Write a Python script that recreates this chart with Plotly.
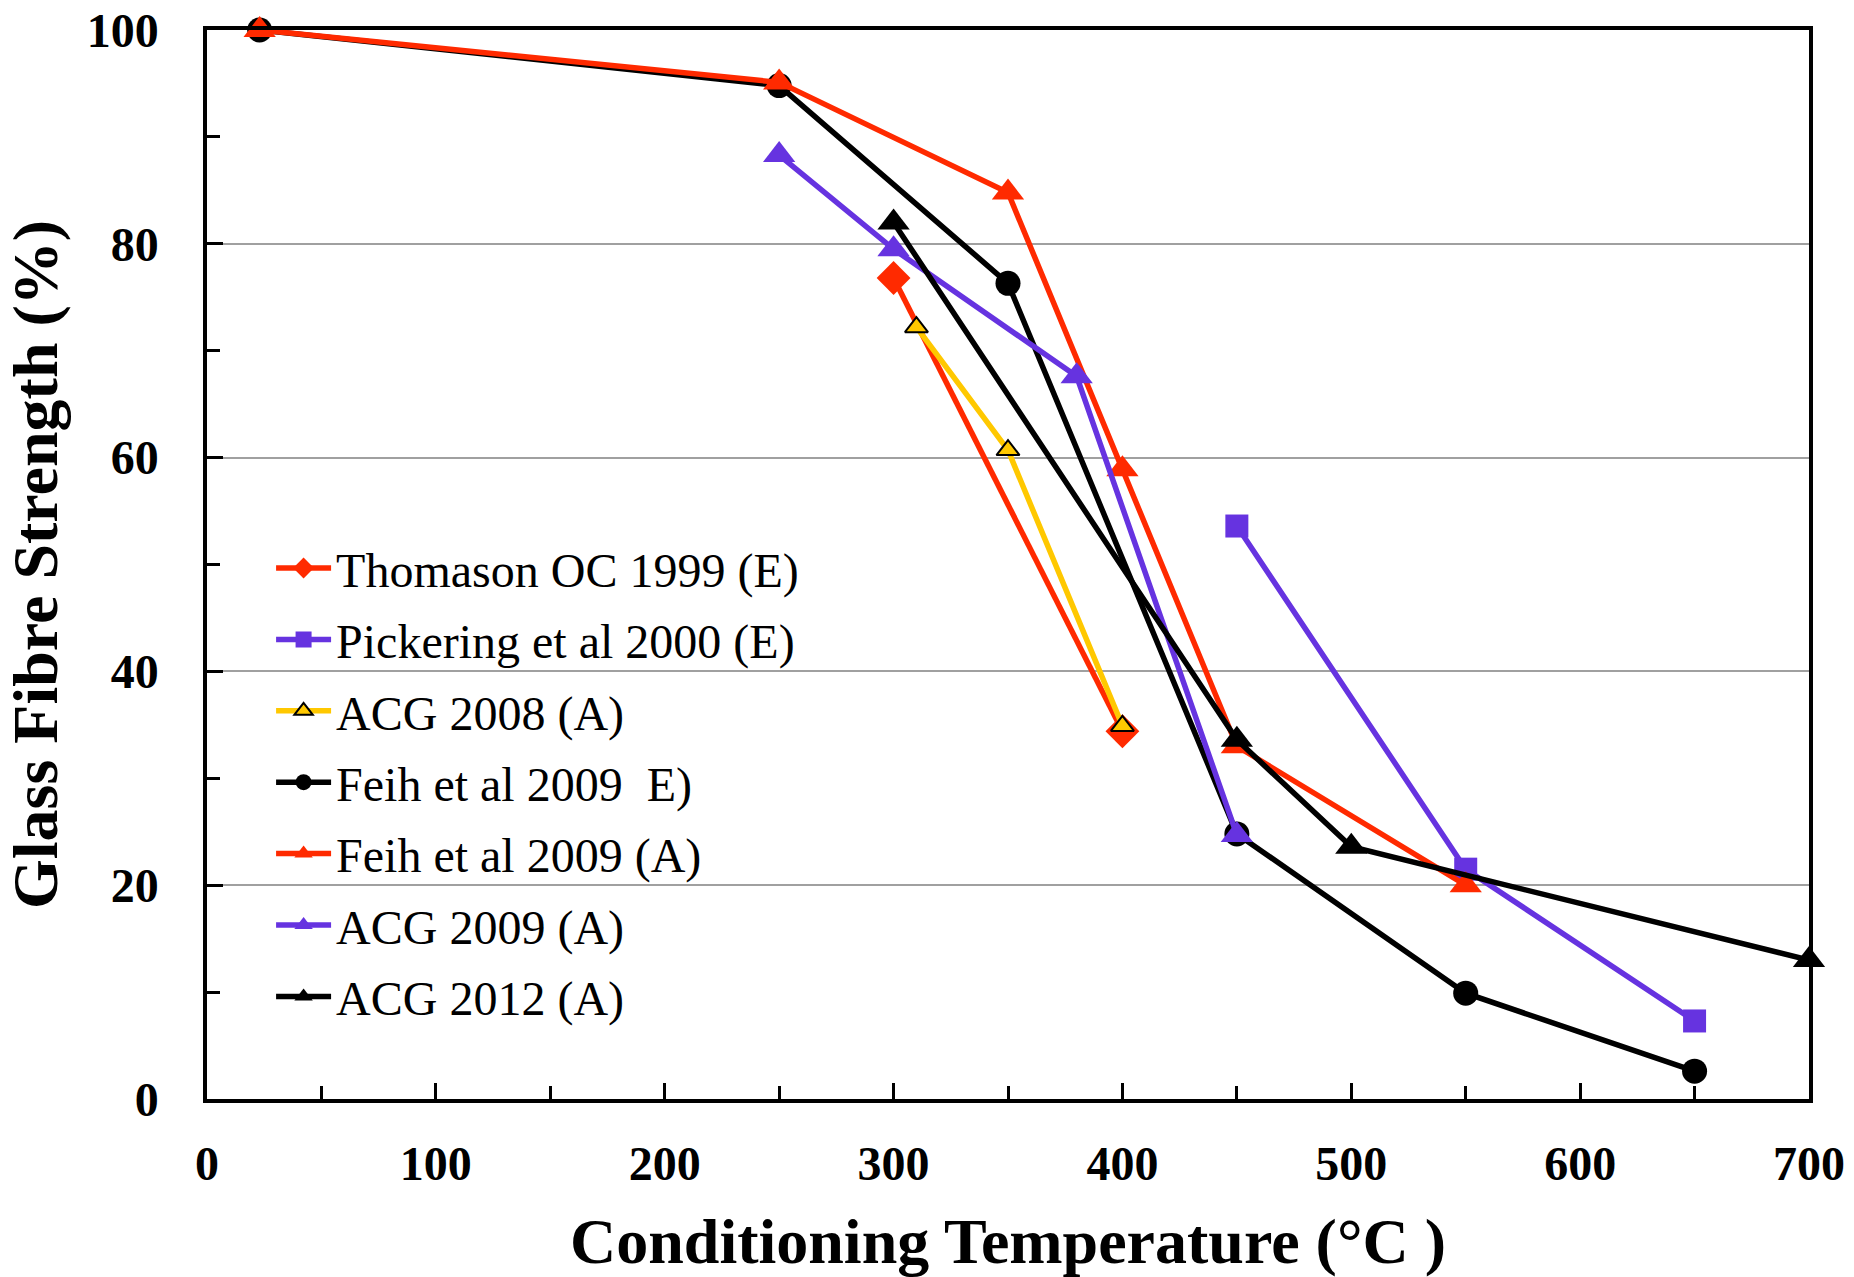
import plotly.graph_objects as go

# ---- data ----
thomason_x = [300, 400]
thomason_y = [76.8, 34.4]

pickering_x = [450, 550, 650]
pickering_y = [53.6, 21.5, 7.3]

acg2008_x = [310, 350, 400]
acg2008_y = [72.2, 60.7, 34.9]

feihE_x = [23, 250, 350, 450, 550, 650]
feihE_y = [100, 94.8, 76.3, 24.8, 9.9, 2.6]

feihA_x = [23, 250, 350, 400, 450, 550]
feihA_y = [100, 95.1, 84.8, 58.9, 33.0, 20.0]

acg2009_x = [250, 300, 380, 450]
acg2009_y = [88.3, 79.5, 67.6, 24.7]

acg2012_x = [300, 450, 500, 700]
acg2012_y = [82.0, 33.6, 23.6, 13.0]

x_ticks = [0, 100, 200, 300, 400, 500, 600, 700]
y_ticks = [0, 20, 40, 60, 80, 100]

RED = "#FF2A00"
PURPLE = "#6633E0"
YELLOW = "#FFC800"
BLACK = "#000000"
LW = 5.5

series = [
    ("Thomason OC 1999 (E)", thomason_x, thomason_y, RED, "diamond", 26, RED, 0),
    ("Pickering et al 2000 (E)", pickering_x, pickering_y, PURPLE, "square", 23, PURPLE, 0),
    ("ACG 2008 (A)", acg2008_x, acg2008_y, YELLOW, "triangle-up", 20, BLACK, 2),
    ("Feih et al 2009\u00a0 E)", feihE_x, feihE_y, BLACK, "circle", 25, BLACK, 0),
    ("Feih et al 2009 (A)", feihA_x, feihA_y, RED, "triangle-up", 28, RED, 0),
    ("ACG 2009 (A)", acg2009_x, acg2009_y, PURPLE, "triangle-up", 28, PURPLE, 0),
    ("ACG 2012 (A)", acg2012_x, acg2012_y, BLACK, "triangle-up", 28, BLACK, 0),
]

fig = go.Figure()
for i, (name, xs, ys, col, sym, sz, lc, lw) in enumerate(series):
    fig.add_trace(go.Scatter(
        x=xs, y=ys, name=name, mode="lines+markers",
        line=dict(color=col, width=LW),
        marker=dict(symbol=sym, size=sz, color=col, line=dict(color=lc, width=lw)),
        legendgroup=f"g{i}", cliponaxis=False,
    ))

tickfont = dict(family="Liberation Serif", size=48, color="black", weight="bold")
titlefont = dict(family="Liberation Serif", size=64, color="black", weight="bold")

fig.update_layout(
    width=1854, height=1277,
    margin=dict(l=207, r=45, t=30, b=178),
    paper_bgcolor="white", plot_bgcolor="white",
    showlegend=True,
    legend=dict(
        x=0.04, y=0.532, xanchor="left", yanchor="top",
        font=dict(family="Liberation Serif", size=48, color="black"),
        bgcolor="rgba(0,0,0,0)", borderwidth=0,
        tracegroupgap=6, itemwidth=55,
    ),
    xaxis=dict(
        range=[0, 700], tickvals=x_ticks, ticktext=[str(v) for v in x_ticks],
        showline=True, linecolor="black", linewidth=3.5, mirror=True,
        ticks="inside", ticklen=16, tickwidth=2.5, tickcolor="black",
        minor=dict(dtick=50, ticks="inside", ticklen=13, tickwidth=2.5, tickcolor="black", showgrid=False),
        showgrid=False, zeroline=False, automargin=False,
        tickfont=tickfont, ticklabelstandoff=20, ticklabeloverflow="allow",
        title=dict(text="Conditioning Temperature (°C )", font=titlefont, standoff=32),
    ),
    yaxis=dict(
        range=[0, 100], tickvals=y_ticks, ticktext=[str(v) for v in y_ticks],
        showline=True, linecolor="black", linewidth=3.5, mirror=True,
        ticks="inside", ticklen=16, tickwidth=2.5, tickcolor="black",
        minor=dict(dtick=10, ticks="inside", ticklen=13, tickwidth=2.5, tickcolor="black", showgrid=False),
        showgrid=True, gridcolor="#A0A0A0", gridwidth=1.5, zeroline=False, automargin=False,
        tickfont=tickfont, ticklabelstandoff=35, ticklabeloverflow="allow",
        title=dict(text="Glass Fibre Strength (%)", font=titlefont, standoff=15),
    ),
)

fig.write_html("out.html")
